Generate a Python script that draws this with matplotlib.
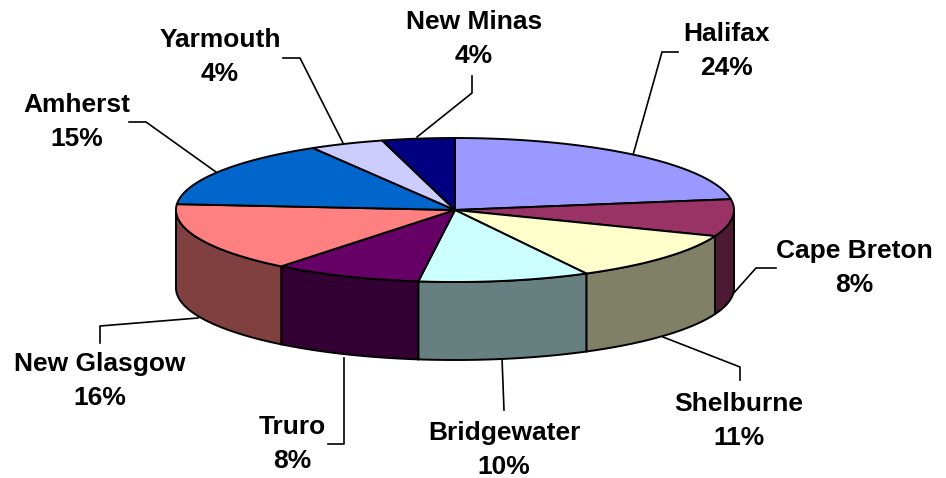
import numpy as np
import matplotlib
matplotlib.use('Agg')
import matplotlib.pyplot as plt

# Labels as printed on the chart, clockwise from the top
names = ['Halifax', 'Cape Breton', 'Shelburne', 'Bridgewater', 'Truro',
         'New Glasgow', 'Amherst', 'Yarmouth', 'New Minas']
shares = [24, 8, 11, 10, 8, 16, 15, 4, 4]
# slice sizes as they measure on the tilted pie, view distortion included
slice_sizes = [22.6, 8.3, 11.3, 9.9, 8.6, 15.6, 15.2, 4.3, 4.2]
top_colors = ['#9999FF', '#993366', '#FFFFCC', '#CCFFFF', '#660066',
              '#FF8080', '#0066CC', '#CCCCFF', '#000080']
side_colors = ['#4D4D80', '#4D1A33', '#808066', '#668080', '#330033',
               '#804040', '#003366', '#666680', '#000040']

cx, cy = 455, 210
rx, ry = 279, 72
depth = 78

# label text centre, then leader line points in pixels
label_pos = [(726, 51), (854, 268), (739, 421), (504, 450), (292, 444),
             (100, 381), (77, 122), (220, 57), (474, 39)]
leaders = [[(678, 52), (662, 52), (633, 155)],
           [(776, 268), (756, 268), (732, 295)],
           [(740, 380), (740, 367), (663, 337)],
           [(504, 410), (502, 358)],
           [(328, 444), (344, 444), (344, 358)],
           [(100, 343), (100, 326), (198, 318)],
           [(129, 122), (146, 122), (216, 172)],
           [(283, 58), (300, 58), (343, 143)],
           [(472, 76), (472, 93), (417, 137)]]


def ellipse_pts(a0, a1, dy=0):
    t = np.radians(np.linspace(a0, a1, 200))
    return cx + rx * np.sin(t), cy - ry * np.cos(t) + dy


fig = plt.figure(figsize=(9.46, 4.78), dpi=100)
ax = fig.add_axes([0, 0, 1, 1])
ax.set_xlim(0, 946)
ax.set_ylim(478, 0)
ax.axis('off')

edges = np.cumsum([0] + slice_sizes) * 3.6

# side walls first, only the front half shows
for i in range(len(slice_sizes)):
    a0 = max(edges[i], 90)
    a1 = min(edges[i + 1], 270)
    if a1 <= a0:
        continue
    x1, y1 = ellipse_pts(a0, a1)
    x2, y2 = ellipse_pts(a1, a0, depth)
    ax.fill(np.r_[x1, x2], np.r_[y1, y2], fc=side_colors[i], ec='black', lw=1.4, zorder=2)

# top of the pie
for i in range(len(slice_sizes)):
    x1, y1 = ellipse_pts(edges[i], edges[i + 1])
    ax.fill(np.r_[cx, x1], np.r_[cy, y1], fc=top_colors[i], ec='black', lw=1.4, zorder=3)

for pts in leaders:
    xs, ys = zip(*pts)
    ax.plot(xs, ys, color='black', lw=1.2, zorder=1)

for name, share, (lx, ly) in zip(names, shares, label_pos):
    ax.text(lx, ly, f'{name}\n{share}%', ha='center', va='center', family='Liberation Sans',
            fontweight='bold', fontsize=19, linespacing=1.54, color='black', zorder=5)

fig.savefig('out.png', dpi=100)
